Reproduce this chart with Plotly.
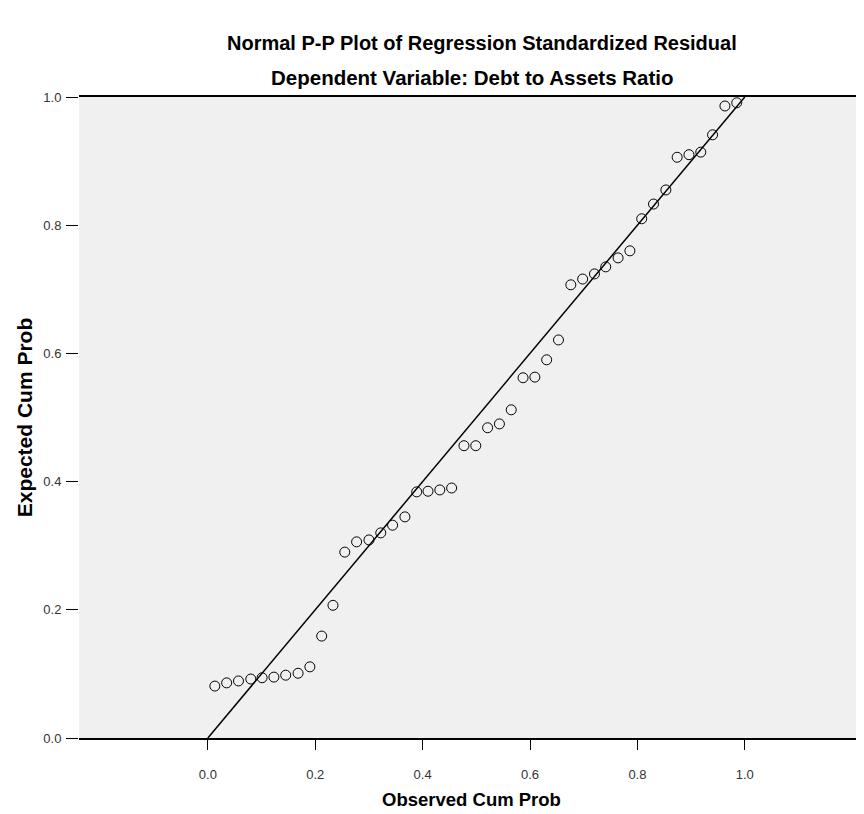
import plotly.graph_objects as go

# Observed cumulative probability (x) and expected cumulative probability (y)
observed_cum_prob = [0.013, 0.035, 0.057, 0.080, 0.101, 0.123, 0.145, 0.168, 0.190,
                     0.212, 0.233, 0.255, 0.277, 0.300, 0.322, 0.344, 0.367,
                     0.389, 0.410, 0.432, 0.454, 0.477, 0.499, 0.521, 0.543,
                     0.565, 0.587, 0.609, 0.631, 0.653, 0.676, 0.698, 0.720,
                     0.741, 0.764, 0.786, 0.808, 0.830, 0.853, 0.874, 0.896,
                     0.918, 0.940, 0.963, 0.985]
expected_cum_prob = [0.081, 0.086, 0.089, 0.092, 0.094, 0.095, 0.098, 0.101, 0.111,
                     0.159, 0.207, 0.290, 0.306, 0.309, 0.320, 0.332, 0.345,
                     0.384, 0.385, 0.387, 0.390, 0.456, 0.456, 0.484, 0.490,
                     0.512, 0.562, 0.563, 0.590, 0.621, 0.707, 0.716, 0.724,
                     0.735, 0.749, 0.760, 0.810, 0.833, 0.855, 0.906, 0.910,
                     0.914, 0.941, 0.986, 0.991]

ref_line_x = [0.0, 1.0]
ref_line_y = [0.0, 1.0]

tick_vals = [0.0, 0.2, 0.4, 0.6, 0.8, 1.0]
tick_text = ["0.0", "0.2", "0.4", "0.6", "0.8", "1.0"]

title_text = "Normal P-P Plot of Regression Standardized Residual"
subtitle_text = "Dependent Variable: Debt to Assets Ratio"

# page has an 8px body margin, so figure coords = page coords - 8
W, H = 856, 806
L, R, T, B = 71, 0, 89, 76

fig = go.Figure()
fig.add_trace(go.Scatter(x=ref_line_x, y=ref_line_y, mode="lines",
                         line=dict(color="black", width=1.5), hoverinfo="skip",
                         showlegend=False))
fig.add_trace(go.Scatter(x=observed_cum_prob, y=expected_cum_prob, mode="markers",
                         marker=dict(symbol="circle-open", size=10,
                                     color="black", line=dict(width=1)),
                         showlegend=False, cliponaxis=False))

font_family = "Liberation Sans, Arial, sans-serif"

fig.update_layout(
    width=W, height=H,
    margin=dict(l=L, r=R, t=T, b=B),
    paper_bgcolor="white",
    plot_bgcolor="#f0f0f0",
    font=dict(family=font_family, color="#333333", size=12),
    xaxis=dict(range=[-0.24, 1.222], tickvals=tick_vals, ticktext=tick_text,
               showgrid=False, zeroline=False, showline=True, linecolor="black",
               linewidth=1.5, mirror=True, ticks="outside", ticklen=10,
               tickcolor="black", tickwidth=1, ticklabelstandoff=14,
               tickfont=dict(size=13, color="#333333"),
               title=dict(text="<b>Observed Cum Prob</b>", standoff=12,
                          font=dict(size=18.5, color="black"))),
    yaxis=dict(range=[0, 1], tickvals=tick_vals, ticktext=tick_text,
               showgrid=False, zeroline=False, showline=False,
               ticks="outside", ticklen=12, tickcolor="black", tickwidth=1,
               ticklabelstandoff=2,
               tickfont=dict(size=13, color="#333333"),
               title=dict(text="<b>Expected Cum Prob</b>", standoff=4,
                          font=dict(size=21, color="black"))),
)

plot_h = H - T - B
plot_w = W - L - R
for txt, ypix, xpix, fs in [(title_text, 43, 482, 20), (subtitle_text, 77, 472, 20.5)]:
    fig.add_annotation(text="<b>" + txt + "</b>", showarrow=False,
                       xref="paper", yref="paper",
                       x=(xpix - 8 - L) / plot_w, y=(H - B - (ypix - 8)) / plot_h,
                       xanchor="center", yanchor="middle",
                       font=dict(size=fs, color="black"))

fig.write_html("out.html")
